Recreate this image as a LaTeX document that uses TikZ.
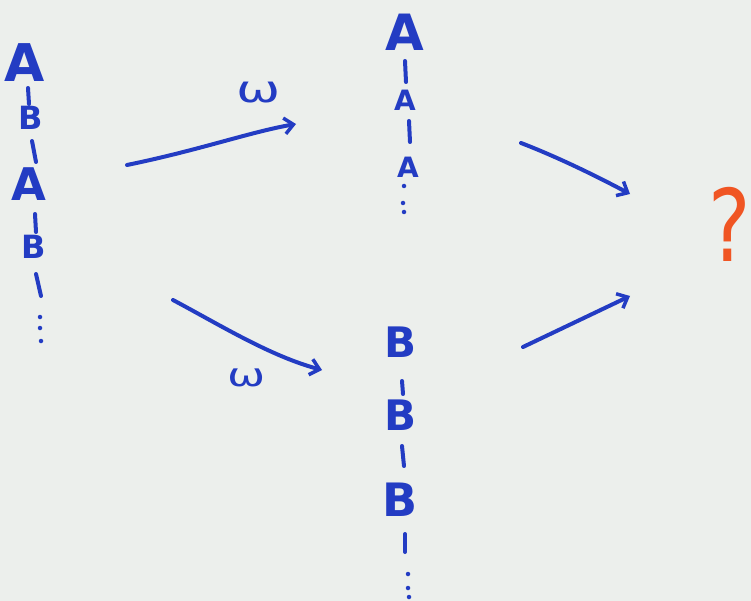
\documentclass[tikz,border=0pt]{standalone}
\usepackage{fontspec}
\setmainfont{DejaVu Sans}
\usetikzlibrary{arrows.meta}
\definecolor{ink}{RGB}{35,60,195}
\definecolor{orng}{RGB}{240,85,35}
\definecolor{paper}{RGB}{236,239,236}
\tikzset{
  lt/.style={text=ink, inner sep=0pt, font=\bfseries\fontsize{#1}{#1}\selectfont},
  bar/.style={draw=ink, line width=4pt, line cap=round},
  arr/.style={draw=ink, line width=4pt, line cap=round, -{Straight Barb[length=9pt,width=16pt,line width=3.5pt]}},
  dt/.style={circle, fill=ink, inner sep=0pt, minimum size=4.5pt},
  lab/.style={text=ink, inner sep=0pt, xscale=1.2, yscale=0.85, font=\fontsize{#1}{#1}\selectfont}
}
\begin{document}
\begin{tikzpicture}[x=1pt,y=-1pt]
\fill[paper] (0,0) rectangle (751,601);
\useasboundingbox (0,0) rectangle (751,601);
% left column
\node[lt=52] (l1) at (25,63) {A};
\coordinate (lb1a) at (28,88); \coordinate (lb1b) at (29,104);
\node[lt=32] (l2) at (31,118) {B};
\coordinate (lb2a) at (32,141); \coordinate (lb2b) at (36,162);
\node[lt=45] (l3) at (29,184) {A};
\coordinate (lb3a) at (35,214); \coordinate (lb3b) at (36,232);
\node[lt=32] (l4) at (34,247) {B};
\coordinate (lb4a) at (36,274); \coordinate (lb4b) at (41,296);
\draw[bar] (lb1a) -- (lb1b);
\draw[bar] (lb2a) -- (lb2b);
\draw[bar] (lb3a) -- (lb3b);
\draw[bar] (lb4a) -- (lb4b);
\node[dt] (ld1) at (40,317) {};
\node[dt] (ld2) at (40,328) {};
\node[dt] (ld3) at (41,341) {};
% top middle column
\node[lt=50] (t1) at (405,32) {A};
\coordinate (tb1a) at (405,61); \coordinate (tb1b) at (406,82);
\node[lt=28] (t2) at (405,100) {A};
\coordinate (tb2a) at (409,121); \coordinate (tb2b) at (410,142);
\node[lt=28] (t3) at (408,167) {A};
\draw[bar] (tb1a) -- (tb1b);
\draw[bar] (tb2a) -- (tb2b);
\node[dt] (td1) at (404,186) {};
\node[dt] (td2) at (403,203) {};
\node[dt] (td3) at (404,212) {};
% bottom middle column
\node[lt=42] (b1) at (400,342) {B};
\coordinate (bb1a) at (402,381); \coordinate (bb1b) at (403,394);
\node[lt=42] (b2) at (400,415) {B};
\coordinate (bb2a) at (402,446); \coordinate (bb2b) at (404,466);
\node[lt=46] (b3) at (400,500) {B};
\coordinate (bb3a) at (405,534); \coordinate (bb3b) at (405,552);
\draw[bar] (bb1a) -- (bb1b);
\draw[bar] (bb2a) -- (bb2b);
\draw[bar] (bb3a) -- (bb3b);
\node[dt] (bd1) at (408,574) {};
\node[dt] (bd2) at (408,588) {};
\node[dt] (bd3) at (409,597) {};
% arrows
\coordinate (a1s) at (127,165); \coordinate (a1e) at (296,124);
\draw[arr] (a1s) .. controls (200,150) and (250,132) .. (a1e);
\node[lab=44] (w1) at (259,93) {ω};
\coordinate (a2s) at (173,300); \coordinate (a2e) at (322,370);
\draw[arr] (a2s) .. controls (220,325) and (270,356) .. (a2e);
\node[lab=38] (w2) at (247,378) {ω};
\coordinate (a3s) at (521,143); \coordinate (a3e) at (630,194);
\draw[arr] (a3s) .. controls (560,158) and (600,178) .. (a3e);
\coordinate (a4s) at (523,347); \coordinate (a4e) at (630,296);
\draw[arr] (a4s) -- (a4e);
\node[text=orng, inner sep=0pt, xscale=0.8, font=\fontsize{100}{100}\selectfont] (q) at (730,224) {?};
\end{tikzpicture}
\end{document}
